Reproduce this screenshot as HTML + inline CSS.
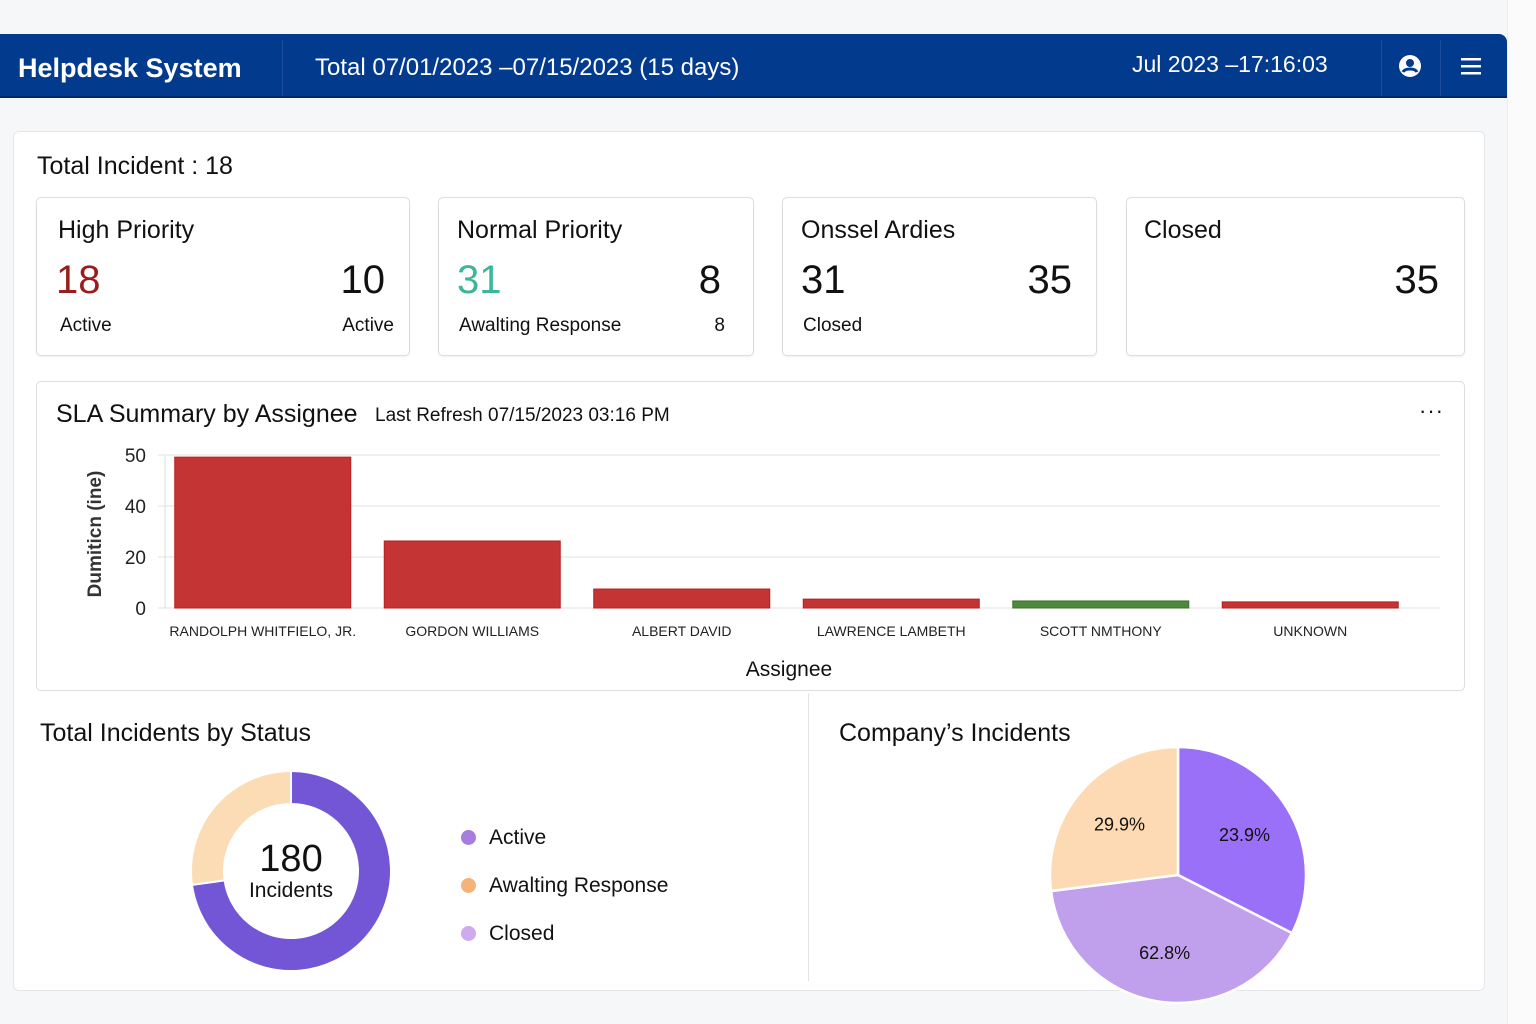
<!DOCTYPE html>
<html><head><meta charset="utf-8"><style>
*{box-sizing:border-box;margin:0;padding:0}
body{width:1536px;height:1024px;background:#f6f7f9;font-family:"Liberation Sans",sans-serif;color:#111;position:relative;overflow:hidden}
.abs{position:absolute}
.hdr{left:0;top:34px;width:1507px;height:64px;background:#023a8e;border-top-right-radius:8px;color:#fff;border-bottom:2px solid #012a6a}
.sep{position:absolute;top:6px;width:1px;height:56px;background:#1d4d9a}
.panel{left:13px;top:131px;width:1472px;height:860px;background:#fff;border:1px solid #e4e6ea;border-radius:6px}
.card{background:#fff;border:1px solid #dcdde0;border-radius:5px;box-shadow:0 1px 2px rgba(0,0,0,.06)}
.t{position:absolute;white-space:nowrap}
</style></head><body>
<div class="abs" style="left:1507px;top:0;width:29px;height:1024px;background:#fbfbfc;border-left:1px solid #eceef1"></div>
<div class="abs hdr">
  <div class="t" style="left:18px;top:19px;font-size:27px;font-weight:bold">Helpdesk System</div>
  <div class="sep" style="left:282px"></div>
  <div class="t" style="left:315px;top:20px;font-size:24px">Total 07/01/2023 –07/15/2023 (15 days)</div>
  <div class="t" style="left:1132px;top:17px;font-size:23px">Jul 2023 –17:16:03</div>
  <div class="sep" style="left:1381px"></div>
  <div class="sep" style="left:1440px"></div>
  <svg class="abs" style="left:1398px;top:20px" width="24" height="24" viewBox="0 0 24 24"><circle cx="12" cy="12" r="11" fill="#fff"/><circle cx="12" cy="9" r="4" fill="#023a8e"/><path d="M5 18c2-4 12-4 14 0" stroke="#023a8e" stroke-width="3" fill="none"/></svg>
  <svg class="abs" style="left:1459px;top:22px" width="24" height="20"><rect x="2" y="2" width="20" height="2.5" fill="#fff"/><rect x="2" y="9" width="20" height="2.5" fill="#fff"/><rect x="2" y="16" width="20" height="2.5" fill="#fff"/></svg>
</div>
<div class="abs panel"></div>
<div class="t" style="left:37px;top:152px;font-size:25px">Total Incident : 18</div>

<div class="abs card" style="left:36px;top:197px;width:374px;height:159px">
  <div class="t" style="left:21px;top:18px;font-size:25px">High Priority</div>
  <div class="t" style="left:19px;top:60px;font-size:40px;color:#9b1c1c">18</div>
  <div class="t" style="right:24px;top:60px;font-size:40px">10</div>
  <div class="t" style="left:23px;top:117px;font-size:19px">Active</div>
  <div class="t" style="right:15px;top:117px;font-size:19px">Active</div>
</div>
<div class="abs card" style="left:438px;top:197px;width:316px;height:159px">
  <div class="t" style="left:18px;top:18px;font-size:25px">Normal Priority</div>
  <div class="t" style="left:18px;top:60px;font-size:40px;color:#3cb69b">31</div>
  <div class="t" style="right:32px;top:60px;font-size:40px">8</div>
  <div class="t" style="left:20px;top:117px;font-size:19px">Awalting Response</div>
  <div class="t" style="right:28px;top:117px;font-size:19px">8</div>
</div>
<div class="abs card" style="left:782px;top:197px;width:315px;height:159px">
  <div class="t" style="left:18px;top:18px;font-size:25px">Onssel Ardies</div>
  <div class="t" style="left:18px;top:60px;font-size:40px">31</div>
  <div class="t" style="right:24px;top:60px;font-size:40px">35</div>
  <div class="t" style="left:20px;top:117px;font-size:19px">Closed</div>
</div>
<div class="abs card" style="left:1126px;top:197px;width:339px;height:159px">
  <div class="t" style="left:17px;top:18px;font-size:25px">Closed</div>
  <div class="t" style="right:25px;top:60px;font-size:40px">35</div>
</div>

<div class="abs card" style="left:36px;top:381px;width:1429px;height:310px;box-shadow:none"></div>
<div class="t" style="left:56px;top:400px;font-size:25px">SLA Summary by Assignee</div>
<div class="t" style="left:375px;top:405px;font-size:19px">Last Refresh 07/15/2023 03:16 PM</div>
<div class="t" style="left:1419px;top:398px;font-size:22px;letter-spacing:1px">···</div>
<svg class="abs" id="bar" style="left:0;top:0" width="1536" height="700"></svg>

<div class="abs" style="left:808px;top:693px;width:1px;height:288px;background:#e3e4e7"></div>
<div class="t" style="left:40px;top:719px;font-size:25px">Total Incidents by Status</div>
<div class="t" style="left:839px;top:719px;font-size:25px">Company’s Incidents</div>
<svg class="abs" id="donut" style="left:0;top:0" width="800" height="1024"></svg>
<div class="t" style="left:241px;top:838px;width:100px;text-align:center;font-size:38px">180</div>
<div class="t" style="left:231px;top:879px;width:120px;text-align:center;font-size:21px">Incidents</div>
<div id="legend"></div>
<svg class="abs" id="pie" style="left:0;top:0" width="1536" height="1024"></svg>

<script>
const NS='http://www.w3.org/2000/svg';
function mk(p,t,a){const e=document.createElementNS(NS,t);for(const k in a)e.setAttribute(k,a[k]);p.appendChild(e);return e;}
// ---- bar chart data ----
const assignees=['RANDOLPH WHITFIELO, JR.','GORDON WILLIAMS','ALBERT DAVID','LAWRENCE LAMBETH','SCOTT NMTHONY','UNKNOWN'];
const durations=[49.3,21.9,6.2,2.9,2.3,2.0];
const barColors=['#c43434','#c43434','#c43434','#c43434','#4e8a3e','#c43434'];
const tickLabels=['0','20','40','50'];
const bar=document.getElementById('bar');
const X0=158,X1=1415,Y0=608,Y1=455,YMAX=50;
const band=(X1-X0)/assignees.length;
const xC=i=>X0+band*(i+0.5);
const y=v=>Y0-(v/YMAX)*(Y0-Y1);
tickLabels.forEach((l,i)=>{const yy=Y0-i*(Y0-Y1)/(tickLabels.length-1);
 const g=mk(bar,'line',{x1:158,x2:1440,y1:yy,y2:yy,stroke:'#e2e2e2','stroke-width':1});
 
 const t=mk(bar,'text',{x:146,y:yy+7,'text-anchor':'end','font-size':19,fill:'#222'});t.textContent=l;
 });
mk(bar,'line',{x1:165,x2:165,y1:Y1,y2:Y0,stroke:'#ddd'});
const yt=mk(bar,'text',{x:101,y:534,transform:'rotate(-90 101 534)','text-anchor':'middle','font-size':19,'font-weight':'bold',fill:'#333'});yt.textContent='Dumiticn (ine)';

assignees.forEach((a,i)=>{
 const r=mk(bar,'rect',{x:xC(i)-88,y:y(durations[i]),width:176,height:Y0-y(durations[i]),fill:barColors[i],stroke:barColors[i]==='#c43434'?'#b81e1e':'#3c7030'});
 
 const t=mk(bar,'text',{x:xC(i),y:636,'text-anchor':'middle','font-size':14,fill:'#222'});t.textContent=a;
 });
const xt=mk(bar,'text',{x:789,y:676,'text-anchor':'middle','font-size':21,fill:'#111'});xt.textContent='Assignee';


function arc(cx,cy,r,ri,a0,a1){const p=a=>[cx+Math.sin(a)*r,cy-Math.cos(a)*r],q=a=>[cx+Math.sin(a)*ri,cy-Math.cos(a)*ri];
 const L=(a1-a0)>Math.PI?1:0;const [x0,y0]=p(a0),[x1,y1]=p(a1);
 if(ri>0){const [u0,v0]=q(a1),[u1,v1]=q(a0);return `M${x0},${y0}A${r},${r} 0 ${L} 1 ${x1},${y1}L${u0},${v0}A${ri},${ri} 0 ${L} 0 ${u1},${v1}Z`;}
 return `M${cx},${cy}L${x0},${y0}A${r},${r} 0 ${L} 1 ${x1},${y1}Z`;}
// ---- donut data ----
const statusNames=['Active','Awalting Response','Closed'];
const statusValues=[131,49,0];
const donutColors=['#7356d6','#fbdcb5','#c9a6ea'];
const legendColors=['#a77ee0','#f7b27a','#cfaaf0'];
const donut=document.getElementById('donut');
const tot=statusValues.reduce((a,b)=>a+b,0);let acc=0;
statusValues.forEach((v,i)=>{if(!v)return;const a0=acc/tot*2*Math.PI;acc+=v;const a1=acc/tot*2*Math.PI;
 const p=mk(donut,'path',{d:arc(291,871,100,67,a0,a1),fill:donutColors[i],stroke:'#fff','stroke-width':2});
 });
const lg=document.getElementById('legend');
statusNames.forEach((n,i)=>{const d=document.createElement('div');d.className='t';d.style.cssText=`left:461px;top:${826+i*48}px;font-size:21px`;
 d.innerHTML=`<span style="display:inline-block;width:15px;height:15px;border-radius:50%;background:${legendColors[i]};margin-right:13px;vertical-align:-1px"></span>${n}`;
 lg.appendChild(d);});
// ---- pie data ----
const companyShares=[32.5,40.5,27.0];
const companyLabels=['23.9%','62.8%','29.9%'];
const pieColors=['#9b70f9','#c0a0ec','#fddab3'];
const pie=document.getElementById('pie');
const ptot=companyShares.reduce((a,b)=>a+b,0);acc=0;
companyShares.forEach((v,i)=>{const a0=acc/ptot*2*Math.PI;acc+=v;const a1=acc/ptot*2*Math.PI;
 const p=mk(pie,'path',{d:arc(1178,875,128,0,a0,a1),fill:pieColors[i],stroke:'#fff','stroke-width':2.5});
 
 const m=(a0+a1)/2;const t=mk(pie,'text',{x:1178+Math.sin(m)*78,y:875-Math.cos(m)*78+7,'text-anchor':'middle','font-size':18,fill:'#111'});t.textContent=companyLabels[i];
 });
</script>
</body></html>
